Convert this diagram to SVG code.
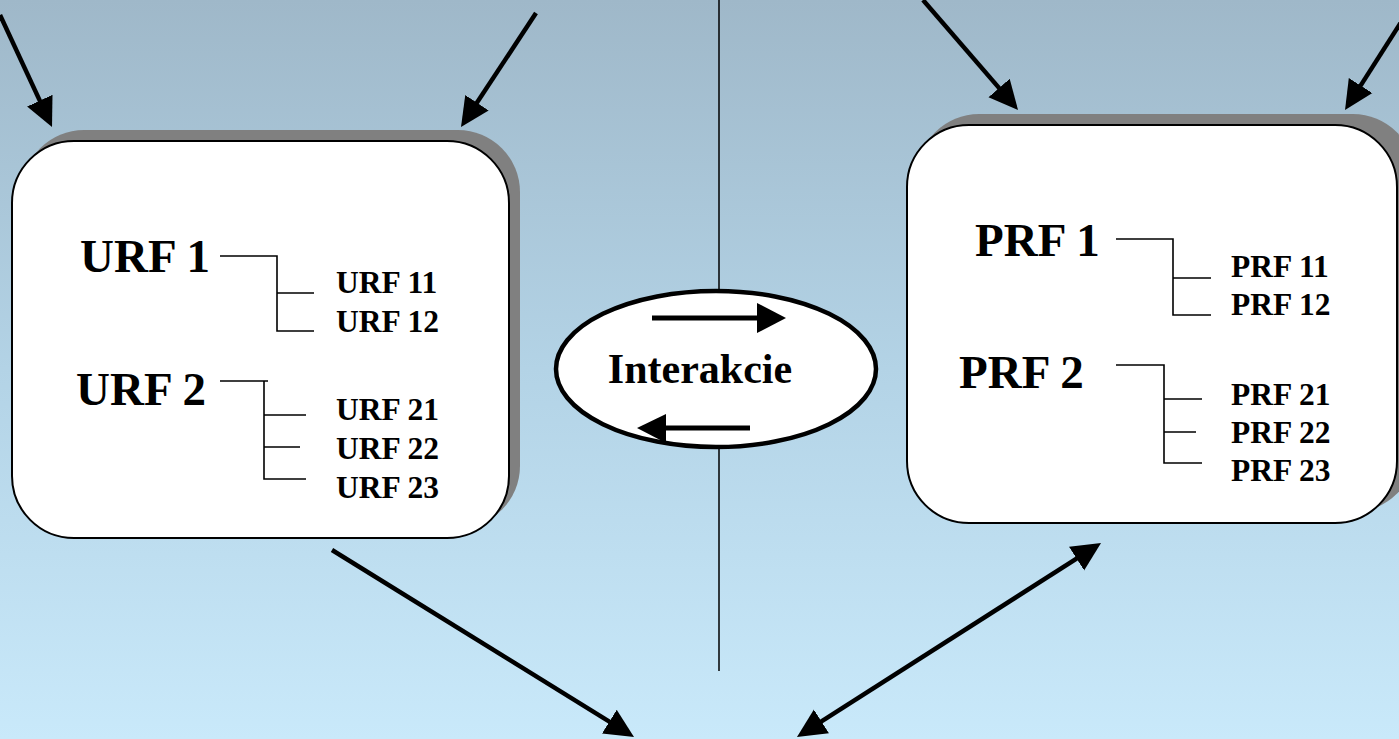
<svg xmlns="http://www.w3.org/2000/svg" width="1399" height="739" viewBox="0 0 1399 739">
<defs>
<linearGradient id="bg" x1="0" y1="0" x2="0" y2="1">
<stop offset="0" stop-color="#9fb8c9"/>
<stop offset="0.5" stop-color="#b3d3e6"/>
<stop offset="1" stop-color="#c9e9fa"/>
</linearGradient>
<marker id="ah" markerUnits="userSpaceOnUse" markerWidth="30" markerHeight="30" viewBox="0 0 30 30" refX="19" refY="15" orient="auto-start-reverse">
<path d="M0,1 L29,15 L0,29 z" fill="#000"/>
</marker>
</defs>
<style>
.shadow{fill:#808080}
.box{fill:#fff;stroke:#000;stroke-width:2}
.conn{stroke:#000;stroke-width:4.5;fill:none}
.tree{stroke:#000;stroke-width:1.6;fill:none}
.big{font-family:"Liberation Serif","Times New Roman",serif;font-weight:bold;font-size:47px;fill:#000}
.small{font-family:"Liberation Serif","Times New Roman",serif;font-weight:bold;font-size:31.5px;fill:#000}
.mid{font-family:"Liberation Serif","Times New Roman",serif;font-weight:bold;font-size:42px;fill:#000}
</style>
<rect x="0" y="0" width="1399" height="739" fill="url(#bg)"/>
<line x1="719" y1="0" x2="719" y2="671" stroke="#000" stroke-width="1.5"/>

<g id="urf">
<rect class="shadow" x="22" y="130" width="498" height="398" rx="62"/>
<rect class="box" x="12" y="141" width="497" height="397" rx="62"/>
<text class="big" x="80" y="272">URF 1</text>
<text class="big" x="76" y="405">URF 2</text>
<path class="tree" d="M220,256 H277 V331 H314 M277,293 H314"/>
<path class="tree" d="M220,381 H268 M264,381 V479 H306 M264,415 H306 M264,447 H300"/>
<text class="small" x="336" y="293">URF 11</text>
<text class="small" x="336" y="332">URF 12</text>
<text class="small" x="336" y="420">URF 21</text>
<text class="small" x="336" y="459">URF 22</text>
<text class="small" x="336" y="498">URF 23</text>
</g>

<g id="prf">
<rect class="shadow" x="917" y="114" width="498" height="398" rx="62"/>
<rect class="box" x="907" y="125" width="490" height="398" rx="62"/>
<text class="big" x="975" y="256">PRF 1</text>
<text class="big" x="959" y="388">PRF 2</text>
<path class="tree" d="M1116,239 H1173 V315 H1211 M1173,278 H1211"/>
<path class="tree" d="M1116,365 H1164 V463 H1202 M1164,399 H1202 M1164,432 H1196"/>
<text class="small" x="1231" y="277">PRF 11</text>
<text class="small" x="1231" y="315">PRF 12</text>
<text class="small" x="1231" y="405">PRF 21</text>
<text class="small" x="1231" y="443">PRF 22</text>
<text class="small" x="1231" y="481">PRF 23</text>
</g>

<g id="interakcie">
<ellipse cx="716" cy="369" rx="160" ry="78" fill="#fff" stroke="#000" stroke-width="4.5"/>
<text class="mid" x="700" y="383" text-anchor="middle">Interakcie</text>
<line x1="652" y1="318" x2="760" y2="318" stroke="#000" stroke-width="5"/>
<path d="M757,303 L786,318 L757,333 z" fill="#000"/>
<line x1="750" y1="428" x2="662" y2="428" stroke="#000" stroke-width="5"/>
<path d="M666,414 L637,428 L666,443 z" fill="#000"/>
</g>

<g id="connectors">
<line class="conn" x1="0" y1="15" x2="47.8" y2="117.9" marker-end="url(#ah)"/>
<line class="conn" x1="536" y1="13" x2="466.5" y2="118.6" marker-end="url(#ah)"/>
<line class="conn" x1="923" y1="0" x2="1011.5" y2="102.4" marker-end="url(#ah)"/>
<line class="conn" x1="1405" y1="16" x2="1350.4" y2="101.6" marker-end="url(#ah)"/>
<line class="conn" x1="332" y1="550" x2="625.5" y2="731.7" marker-end="url(#ah)"/>
<line class="conn" x1="805.4" y1="731.6" x2="1092.6" y2="548.4" marker-start="url(#ah)" marker-end="url(#ah)"/>
</g>
</svg>
